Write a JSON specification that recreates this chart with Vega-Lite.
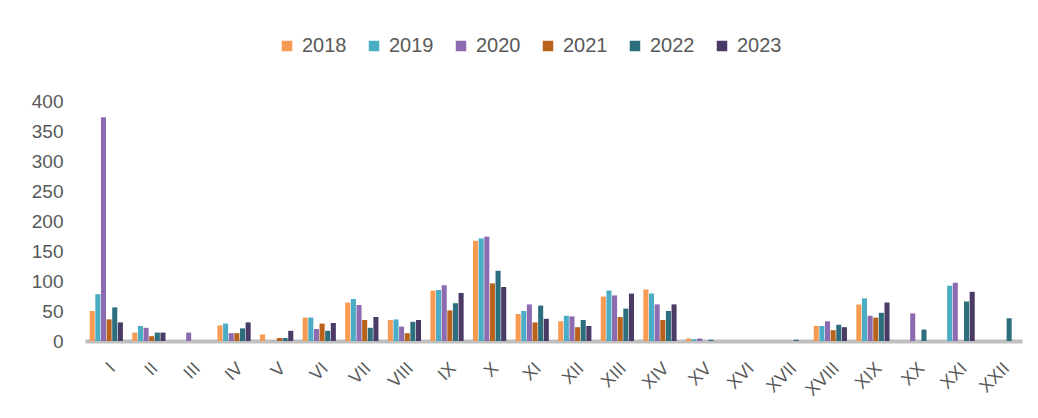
{
  "$schema": "https://vega.github.io/schema/vega-lite/v6.json",
  "width": 937,
  "height": 240,
  "autosize": "none",
  "padding": {"left": 85, "top": 101, "right": 16, "bottom": 77},
  "background": "white",
  "config": {
    "view": {"stroke": null},
    "font": "Liberation Sans"
  },
  "data": {
    "values": [
      {"c":"I","y":"2018","v":50},{"c":"I","y":"2019","v":78},{"c":"I","y":"2020","v":373},{"c":"I","y":"2021","v":36},{"c":"I","y":"2022","v":56},{"c":"I","y":"2023","v":31},
      {"c":"II","y":"2018","v":14},{"c":"II","y":"2019","v":25},{"c":"II","y":"2020","v":22},{"c":"II","y":"2021","v":8},{"c":"II","y":"2022","v":14},{"c":"II","y":"2023","v":14},
      {"c":"III","y":"2018","v":0},{"c":"III","y":"2019","v":0},{"c":"III","y":"2020","v":14},{"c":"III","y":"2021","v":0},{"c":"III","y":"2022","v":0},{"c":"III","y":"2023","v":0},
      {"c":"IV","y":"2018","v":26},{"c":"IV","y":"2019","v":29},{"c":"IV","y":"2020","v":13},{"c":"IV","y":"2021","v":13},{"c":"IV","y":"2022","v":21},{"c":"IV","y":"2023","v":31},
      {"c":"V","y":"2018","v":11},{"c":"V","y":"2019","v":0},{"c":"V","y":"2020","v":0},{"c":"V","y":"2021","v":5},{"c":"V","y":"2022","v":5},{"c":"V","y":"2023","v":17},
      {"c":"VI","y":"2018","v":39},{"c":"VI","y":"2019","v":39},{"c":"VI","y":"2020","v":20},{"c":"VI","y":"2021","v":29},{"c":"VI","y":"2022","v":17},{"c":"VI","y":"2023","v":30},
      {"c":"VII","y":"2018","v":64},{"c":"VII","y":"2019","v":70},{"c":"VII","y":"2020","v":60},{"c":"VII","y":"2021","v":35},{"c":"VII","y":"2022","v":22},{"c":"VII","y":"2023","v":40},
      {"c":"VIII","y":"2018","v":35},{"c":"VIII","y":"2019","v":36},{"c":"VIII","y":"2020","v":24},{"c":"VIII","y":"2021","v":13},{"c":"VIII","y":"2022","v":32},{"c":"VIII","y":"2023","v":35},
      {"c":"IX","y":"2018","v":84},{"c":"IX","y":"2019","v":85},{"c":"IX","y":"2020","v":93},{"c":"IX","y":"2021","v":51},{"c":"IX","y":"2022","v":63},{"c":"IX","y":"2023","v":80},
      {"c":"X","y":"2018","v":167},{"c":"X","y":"2019","v":171},{"c":"X","y":"2020","v":174},{"c":"X","y":"2021","v":96},{"c":"X","y":"2022","v":117},{"c":"X","y":"2023","v":90},
      {"c":"XI","y":"2018","v":45},{"c":"XI","y":"2019","v":50},{"c":"XI","y":"2020","v":61},{"c":"XI","y":"2021","v":31},{"c":"XI","y":"2022","v":59},{"c":"XI","y":"2023","v":37},
      {"c":"XII","y":"2018","v":33},{"c":"XII","y":"2019","v":42},{"c":"XII","y":"2020","v":41},{"c":"XII","y":"2021","v":23},{"c":"XII","y":"2022","v":35},{"c":"XII","y":"2023","v":25},
      {"c":"XIII","y":"2018","v":74},{"c":"XIII","y":"2019","v":84},{"c":"XIII","y":"2020","v":76},{"c":"XIII","y":"2021","v":40},{"c":"XIII","y":"2022","v":54},{"c":"XIII","y":"2023","v":79},
      {"c":"XIV","y":"2018","v":86},{"c":"XIV","y":"2019","v":79},{"c":"XIV","y":"2020","v":61},{"c":"XIV","y":"2021","v":35},{"c":"XIV","y":"2022","v":50},{"c":"XIV","y":"2023","v":61},
      {"c":"XV","y":"2018","v":4},{"c":"XV","y":"2019","v":3},{"c":"XV","y":"2020","v":4},{"c":"XV","y":"2021","v":0},{"c":"XV","y":"2022","v":2},{"c":"XV","y":"2023","v":0},
      {"c":"XVI","y":"2018","v":0},{"c":"XVI","y":"2019","v":0},{"c":"XVI","y":"2020","v":0},{"c":"XVI","y":"2021","v":0},{"c":"XVI","y":"2022","v":0},{"c":"XVI","y":"2023","v":0},
      {"c":"XVII","y":"2018","v":0},{"c":"XVII","y":"2019","v":0},{"c":"XVII","y":"2020","v":0},{"c":"XVII","y":"2021","v":0},{"c":"XVII","y":"2022","v":2},{"c":"XVII","y":"2023","v":0},
      {"c":"XVIII","y":"2018","v":25},{"c":"XVIII","y":"2019","v":25},{"c":"XVIII","y":"2020","v":33},{"c":"XVIII","y":"2021","v":18},{"c":"XVIII","y":"2022","v":27},{"c":"XVIII","y":"2023","v":23},
      {"c":"XIX","y":"2018","v":61},{"c":"XIX","y":"2019","v":71},{"c":"XIX","y":"2020","v":42},{"c":"XIX","y":"2021","v":39},{"c":"XIX","y":"2022","v":47},{"c":"XIX","y":"2023","v":64},
      {"c":"XX","y":"2018","v":0},{"c":"XX","y":"2019","v":0},{"c":"XX","y":"2020","v":46},{"c":"XX","y":"2021","v":0},{"c":"XX","y":"2022","v":19},{"c":"XX","y":"2023","v":0},
      {"c":"XXI","y":"2018","v":0},{"c":"XXI","y":"2019","v":92},{"c":"XXI","y":"2020","v":97},{"c":"XXI","y":"2021","v":0},{"c":"XXI","y":"2022","v":66},{"c":"XXI","y":"2023","v":82},
      {"c":"XXII","y":"2018","v":0},{"c":"XXII","y":"2019","v":0},{"c":"XXII","y":"2020","v":0},{"c":"XXII","y":"2021","v":0},{"c":"XXII","y":"2022","v":38},{"c":"XXII","y":"2023","v":0}
    ]
  },
  "mark": {"type": "bar"},
  "encoding": {
    "x": {
      "field": "c",
      "type": "nominal",
      "sort": null,
      "title": null,
      "scale": {"paddingInner": 0.22, "paddingOuter": 0.11},
      "axis": {
        "domain": true,
        "domainColor": "#bfbfbf",
        "domainWidth": 4,
        "ticks": false,
        "labelAngle": -45,
        "labelFontSize": 18,
        "labelColor": "#595959",
        "labelPadding": 18
      }
    },
    "xOffset": {"field": "y", "type": "nominal", "scale": {"paddingInner": 0.1}},
    "y": {
      "field": "v",
      "type": "quantitative",
      "title": null,
      "scale": {"domain": [0, 400]},
      "axis": {
        "values": [0, 50, 100, 150, 200, 250, 300, 350, 400],
        "grid": false,
        "domain": false,
        "ticks": false,
        "tickSize": 0,
        "labelFontSize": 19,
        "labelColor": "#595959",
        "labelPadding": 22
      }
    },
    "color": {
      "field": "y",
      "type": "nominal",
      "title": null,
      "scale": {
        "domain": ["2018", "2019", "2020", "2021", "2022", "2023"],
        "range": ["#F79A52", "#4BACC6", "#8C6BB1", "#B8621B", "#2C6E7E", "#4A3A66"]
      },
      "legend": {
        "orient": "none",
        "direction": "horizontal",
        "legendX": 192,
        "legendY": -65,
        "symbolType": "square",
        "symbolSize": 110,
        "symbolStrokeWidth": 0,
        "labelFontSize": 20,
        "labelColor": "#595959",
        "labelOffset": 5,
        "columnPadding": 17
      }
    }
  }
}
